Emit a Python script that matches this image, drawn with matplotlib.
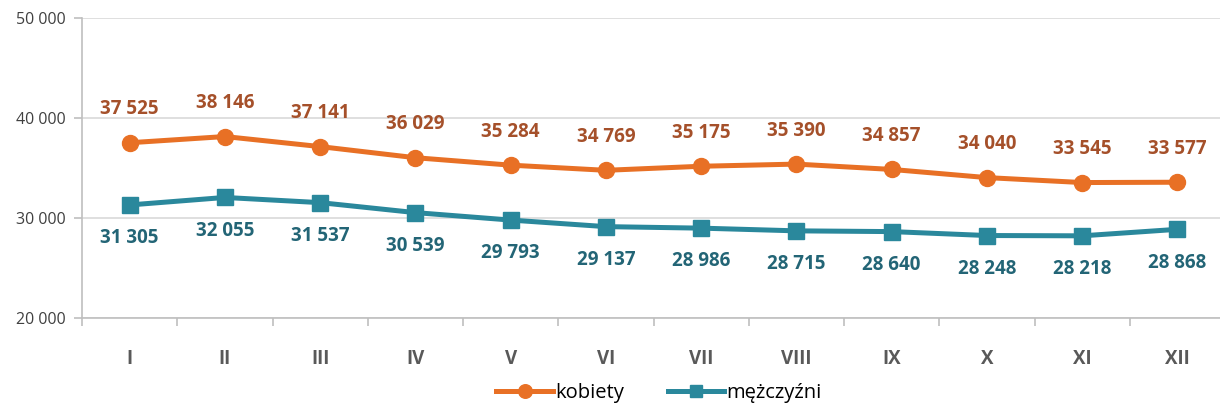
import numpy as np
import matplotlib.pyplot as plt

# Monthly values
months = ['I', 'II', 'III', 'IV', 'V', 'VI', 'VII', 'VIII', 'IX', 'X', 'XI', 'XII']
kobiety = [37525, 38146, 37141, 36029, 35284, 34769, 35175, 35390, 34857, 34040, 33545, 33577]
mezczyzni = [31305, 32055, 31537, 30539, 29793, 29137, 28986, 28715, 28640, 28248, 28218, 28868]

plt.rcParams['font.family'] = ['Open Sans', 'DejaVu Sans']


def fmt(v):
    return f'{v:,}'.replace(',', ' ')


fig = plt.figure(figsize=(12.2, 4.08), dpi=100)
ax = fig.add_axes([82 / 1220, 1 - 318 / 408, 1143 / 1220, 300 / 408])

x = np.arange(len(months))
orange = '#E87025'
teal = '#2A889C'

ax.plot(x, kobiety, color=orange, lw=3.6, marker='o', ms=11.5, label='kobiety', zorder=3)
ax.plot(x, mezczyzni, color=teal, lw=3.6, marker='s', ms=11, label='mężczyźni', zorder=3)

# Data labels
for xi, v in zip(x, kobiety):
    ax.annotate(fmt(v), (xi, v), xytext=(0, 24), textcoords='offset points',
                ha='center', va='center', fontsize=13.5, fontweight='bold', color='#A5502A')
for xi, v in zip(x, mezczyzni):
    ax.annotate(fmt(v), (xi, v), xytext=(0, -24), textcoords='offset points',
                ha='center', va='center', fontsize=13.5, fontweight='bold', color='#236576')

ax.set_ylim(20000, 50000)
ax.set_xlim(-0.5, 11.5)
ax.set_yticks([20000, 30000, 40000, 50000])
ax.set_yticklabels([fmt(v) for v in [20000, 30000, 40000, 50000]], fontsize=11.5, color='#404040')
ax.grid(axis='y', color='#D9D9D9', lw=1.2)
ax.set_axisbelow(True)

# Category labels centred, ticks between categories
ax.set_xticks(x)
ax.set_xticklabels(months, fontsize=13.5, fontweight='bold', color='#595959')
ax.tick_params(axis='x', length=0, pad=22)
ax.set_xticks(np.arange(-0.5, 12, 1), minor=True)
ax.tick_params(axis='x', which='minor', length=6, color='#BFBFBF', width=1.2)
ax.tick_params(axis='y', length=6, color='#BFBFBF', width=1.2, pad=6)

for s in ['top', 'right']:
    ax.spines[s].set_visible(False)
for s in ['left', 'bottom']:
    ax.spines[s].set_color('#BFBFBF')
    ax.spines[s].set_linewidth(1.2)

fig.legend(loc='center', bbox_to_anchor=(659 / 1220, 1 - 393 / 408), ncol=2, frameon=False,
           fontsize=14.5, handlelength=2.8, columnspacing=2.2, handletextpad=0.1,
           markerscale=0.85)

fig.savefig('out.png', dpi=100)
